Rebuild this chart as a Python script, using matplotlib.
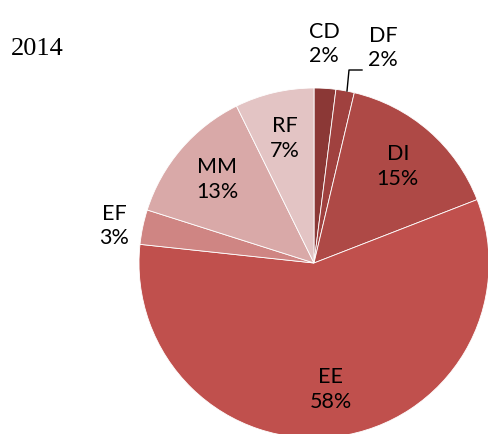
import matplotlib.pyplot as plt
import numpy as np

categories = ["CD", "DF", "DI", "EE", "EF", "MM", "RF"]
shares = [2.0, 1.7, 15.4, 57.6, 3.2, 12.8, 7.3]
colors = ["#8b3836", "#a0413f", "#ae4946", "#c0504d", "#cf8583", "#d9a9a8", "#e3c4c4"]
year = "2014"

W, H = 488, 434
fig = plt.figure(figsize=(W / 100, H / 100), dpi=100)
ax = fig.add_axes([0, 0, 1, 1])

cx, cy, r = 314, 263, 175   # pixel position of pie centre, radius

ax.pie(shares, colors=colors, startangle=90, counterclock=False,
       center=(cx, H - cy), radius=r, frame=True,
       wedgeprops=dict(edgecolor="white", linewidth=0.6))
ax.set_xlim(0, W)
ax.set_ylim(0, H)
ax.set_aspect("equal")
ax.axis("off")

font = dict(family=["Lato", "DejaVu Sans"], fontsize=15.5, ha="center", va="center",
            linespacing=1.3, color="black")

# labels inside the slices sit at ~0.73 of the radius on the mid angle
cum = np.cumsum([0] + shares)
inner = {"DI", "EE", "MM", "RF"}
outer_pos = {"CD": (324, 44), "DF": (383, 48), "EF": (114, 226)}
for i, name in enumerate(categories):
    text = f"{name}\n{round(shares[i]):.0f}%"
    if name in inner:
        mid = (cum[i] + cum[i + 1]) / 2 / 100 * 2 * np.pi
        x = cx + 0.73 * r * np.sin(mid)
        y = cy - 0.73 * r * np.cos(mid)
    else:
        x, y = outer_pos[name]
    ax.text(x, H - y, text, **font)

# leader line for DF
ax.plot([362, 349, 347], [H - 70, H - 70, H - 91], color="black", linewidth=1)

ax.text(37, H - 49, year, family=["Liberation Serif"], fontsize=19,
        ha="center", va="center")

fig.savefig("out.png", dpi=100)
